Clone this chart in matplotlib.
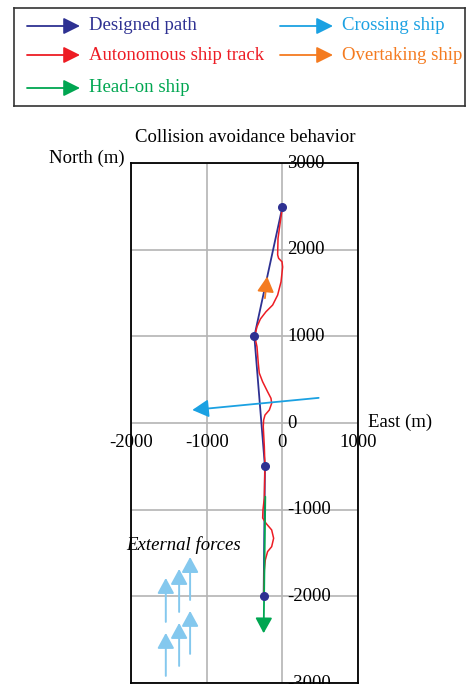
import numpy as np
import matplotlib.pyplot as plt

plt.rcParams['font.family'] = ['Liberation Serif', 'DejaVu Serif']
plt.rcParams['font.size'] = 13.5

# colours
c_path = '#2e3192'
c_track = '#ed1c24'
c_cross = '#1ba1e2'
c_over = '#f47b20'
c_head = '#00a651'
c_force = '#84c8ee'

# designed path waypoints (east, north) in m
path_e = [0, -370, -230, -247]
path_n = [2490, 1000, -500, -2000]

# autonomous ship track
track_e = [0, -30, -57, -62, -49, -4, 4, -17, -62, -128, -216, -290, -335, -365,
           -335, -318, -305, -261, -195, -150, -141, -172, -229, -247, -252, -238,
           -230, -238, -256, -260, -216, -141, -115, -141, -195, -225, -238, -247]
track_n = [2490, 2300, 2130, 1940, 1900, 1860, 1800, 1630, 1476, 1361, 1284, 1200, 1111, 1000,
           880, 692, 577, 477, 361, 285, 227, 150, 92, 35, -42, -273,
           -500, -865, -1003, -1096, -1157, -1234, -1330, -1427, -1484, -1580, -1695, -2000]

# target ships: (start, end)
crossing = [(480, 290), (-1190, 150)]
overtaking = [(-230, 1440), (-200, 1690)]
head_on = [(-225, -850), (-247, -2426)]

# external force arrows: x, tail y, tip y
force_x = [-1540, -1364, -1219, -1540, -1364, -1219]
force_tail = [-2295, -2180, -2042, -2918, -2803, -2664]
force_tip = [-1788, -1684, -1546, -2422, -2307, -2168]

ticks = [-3000, -2000, -1000, 0, 1000, 2000, 3000]
xticks = [-2000, -1000, 0, 1000]

fig = plt.figure(figsize=(4.68, 6.84), dpi=100)

# ---- legend box ----
lg = fig.add_axes([14 / 468, (684 - 106) / 684, 451 / 468, 98 / 684])
lg.set_xlim(14, 465)
lg.set_ylim(106, 8)
lg.set_xticks([])
lg.set_yticks([])
for s in lg.spines.values():
    s.set_color('#333333')
    s.set_linewidth(1.2)

entries = [('Designed path', c_path, 27, 26), ('Autonomous ship track', c_track, 27, 55),
           ('Head-on ship', c_head, 27, 88), ('Crossing ship', c_cross, 280, 26),
           ('Overtaking ship', c_over, 280, 55)]
for label, col, x0, y0 in entries:
    lg.annotate('', xy=(x0 + 53, y0), xytext=(x0, y0),
                arrowprops=dict(arrowstyle='-|>,head_length=0.5,head_width=0.25', color=col,
                                lw=1.3, mutation_scale=20, shrinkA=0, shrinkB=0))
    lg.text(x0 + 62, y0, label, color=col, va='center', ha='left')

# ---- main plot ----
ax = fig.add_axes([131 / 468, 1 / 684, 227 / 468, 520 / 684])
ax.set_xlim(-2000, 1000)
ax.set_ylim(-3000, 3000)
ax.set_xticks(xticks)
ax.set_yticks(ticks)
ax.tick_params(length=0, labelleft=False, labelbottom=False)
ax.grid(True, color='#b4b4b4', lw=1.2)
ax.set_axisbelow(True)
for s in ax.spines.values():
    s.set_color('black')
    s.set_linewidth(1.3)

for t in ticks:
    ax.annotate(str(t), xy=(0, t), xytext=(3.5, 0), textcoords='offset points',
                ha='left', va='center', annotation_clip=False)
for t in xticks:
    ax.annotate(str(t), xy=(t, 0), xytext=(0, -14), textcoords='offset points',
                ha='center', va='center', annotation_clip=False)

ax.plot(path_e, path_n, color=c_path, lw=1.3, zorder=3)
ax.plot(track_e, track_n, color=c_track, lw=1.1, zorder=4)
ax.plot(path_e, path_n, 'o', color=c_path, ms=5.5, zorder=6)


def ship_arrow(seg, col, ms):
    (x0, y0), (x1, y1) = seg
    ax.annotate('', xy=(x1, y1), xytext=(x0, y0),
                arrowprops=dict(arrowstyle='-|>,head_length=0.55,head_width=0.3', color=col,
                                lw=1.3, mutation_scale=ms, shrinkA=0, shrinkB=0), zorder=5)


ship_arrow(crossing, c_cross, 18)
ship_arrow(overtaking, c_over, 17)
ship_arrow(head_on, c_head, 17)

for x, y0, y1 in zip(force_x, force_tail, force_tip):
    ax.annotate('', xy=(x, y1), xytext=(x, y0),
                arrowprops=dict(arrowstyle='-|>,head_length=0.55,head_width=0.3', color=c_force,
                                lw=1.4, mutation_scale=17, shrinkA=0, shrinkB=0))
ax.text(-1300, -1410, 'External forces', style='italic', ha='center', va='center')

fig.text(245 / 468, (684 - 137) / 684, 'Collision avoidance behavior', ha='center', va='center')
fig.text(125 / 468, (684 - 158) / 684, 'North (m)', ha='right', va='center')
fig.text(368 / 468, (684 - 422) / 684, 'East (m)', ha='left', va='center')

fig.savefig('out.png', dpi=100)
